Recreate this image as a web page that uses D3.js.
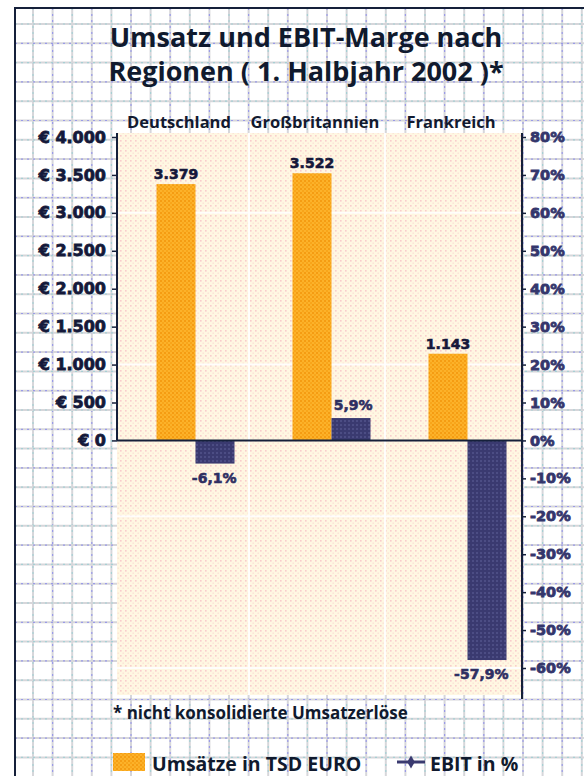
<!DOCTYPE html>
<html>
<head>
<meta charset="utf-8">
<script src="https://cdn.jsdelivr.net/npm/d3@7"></script>
<style>
  body { margin: 0; background: #fff; }
  svg { display: block; }
</style>
</head>
<body>
<svg id="chart"></svg>
<script>
// data
let regions = ["Deutschland", "Großbritannien", "Frankreich"]
let umsatz = [3379, 3522, 1143]        // TSD EURO
let ebit = [-6.1, 5.9, -57.9]          // EBIT in %
let eurTicks = [0, 500, 1000, 1500, 2000, 2500, 3000, 3500, 4000]
let pctTicks = [-60, -50, -40, -30, -20, -10, 0, 10, 20, 30, 40, 50, 60, 70, 80]
let bandLines = [60, 20, -20, -60]     // white lines in the plot texture

function getConfig() {
  let width = 584
  let height = 776
  let plot = { left: 117, right: 522, top: 133, bottom: 695 }
  let container = d3.select("#chart")
    .attr("width", width)
    .attr("height", height)
  return { width, height, plot, container }
}

function getScales(config) {
  // both axes share the pixel scale: 500 EUR = 10 %
  let yPct = d3.scaleLinear().domain([-60, 80]).range([668, 137])
  let yEur = d3.scaleLinear().domain([-3000, 4000]).range([668, 137])
  let xBand = d3.scaleBand().domain(regions).range([113, 521])
  let xInner = d3.scaleBand().domain(["umsatz", "ebit"]).range([0, 78])
  return { yPct, yEur, xBand, xInner }
}

let de = d3.formatLocale({ decimal: ",", thousands: ".", grouping: [3], currency: ["€", ""] })
let fmtEur = de.format(",.0f")
let fmtPct = de.format(".1f")
let sans = "'Open Sans', sans-serif"

function drawPaper(config) {
  let { width, height, container } = config
  let g = container.append("g")
  let xs = d3.range(33, width, 19.6)
  let ys = d3.range(24, height, 19.3)
  xs.forEach((x, i) => {
    g.append("line").attr("x1", x).attr("x2", x).attr("y1", 8).attr("y2", height)
      .attr("stroke", "#d6d6da").attr("stroke-width", 2)
    g.append("line").attr("x1", x).attr("x2", x).attr("y1", 8).attr("y2", height)
      .attr("stroke", i % 2 ? "#9a9ae8" : "#a6d0d4").attr("stroke-width", 1.2)
      .attr("stroke-dasharray", "2,4")
  })
  ys.forEach((y, i) => {
    g.append("line").attr("x1", 15).attr("x2", width).attr("y1", y).attr("y2", y)
      .attr("stroke", "#d6d6da").attr("stroke-width", 2)
    g.append("line").attr("x1", 15).attr("x2", width).attr("y1", y).attr("y2", y)
      .attr("stroke", i % 2 ? "#9a9ae8" : "#a6d0d4").attr("stroke-width", 1.2)
      .attr("stroke-dasharray", "2,4")
  })
  // frame
  g.append("path").attr("d", `M15,${height}V8H${width}`)
    .attr("fill", "none").attr("stroke", "#15203a").attr("stroke-width", 2)
}

function makePatterns(config) {
  let defs = config.container.append("defs")
  let bg = defs.append("pattern").attr("id", "pBg").attr("patternUnits", "userSpaceOnUse")
    .attr("width", 5).attr("height", 5)
  bg.append("rect").attr("width", 5).attr("height", 5).attr("fill", "#fff7e2")
  bg.append("rect").attr("x", 0).attr("y", 0).attr("width", 1.6).attr("height", 1.6).attr("fill", "#f9cccc")
  bg.append("rect").attr("x", 2.5).attr("y", 2.5).attr("width", 1.4).attr("height", 1.4).attr("fill", "#fbe2d6")

  let or = defs.append("pattern").attr("id", "pOrange").attr("patternUnits", "userSpaceOnUse")
    .attr("width", 4).attr("height", 4)
  or.append("rect").attr("width", 4).attr("height", 4).attr("fill", "#fcb22a")
  or.append("rect").attr("width", 2).attr("height", 2).attr("fill", "#f59c12")
  or.append("rect").attr("x", 2).attr("y", 2).attr("width", 2).attr("height", 2).attr("fill", "#f8a51a")

  let nv = defs.append("pattern").attr("id", "pNavy").attr("patternUnits", "userSpaceOnUse")
    .attr("width", 4).attr("height", 4)
  nv.append("rect").attr("width", 4).attr("height", 4).attr("fill", "#3a3a70")
  nv.append("rect").attr("width", 2).attr("height", 2).attr("fill", "#4c4d84")
}

function drawChart(config, scales) {
  let { plot, container } = config
  let { yPct, yEur, xBand, xInner } = scales

  // plot texture
  container.append("rect")
    .attr("x", plot.left).attr("y", plot.top)
    .attr("width", plot.right - plot.left).attr("height", plot.bottom - plot.top)
    .attr("fill", "url(#pBg)")
  container.selectAll(".hband").data(bandLines).enter().append("line")
    .attr("x1", plot.left).attr("x2", plot.right)
    .attr("y1", d => yPct(d)).attr("y2", d => yPct(d))
    .attr("stroke", "#fff").attr("stroke-width", 2).attr("opacity", 0.9)
  container.selectAll(".vband").data(regions.slice(1)).enter().append("line")
    .attr("x1", d => xBand(d)).attr("x2", d => xBand(d))
    .attr("y1", plot.top).attr("y2", plot.bottom)
    .attr("stroke", "#fff").attr("stroke-width", 2).attr("opacity", 0.9)

  // category labels
  container.selectAll(".cat").data(regions).enter().append("text")
    .attr("x", d => xBand(d) + xBand.bandwidth() / 2 - 2)
    .attr("y", 128)
    .attr("text-anchor", "middle")
    .style("font", "bold 16.5px " + sans)
    .attr("fill", "#121a30")
    .text(d => d)

  // bar pairs sit a little right of the band centre
  let groupX = d => xBand(d) + xBand.bandwidth() / 2 + 14.5 - 39

  // Umsatz bars
  container.selectAll(".umsatz").data(regions).enter().append("rect")
    .attr("x", d => groupX(d) + xInner("umsatz"))
    .attr("width", xInner.bandwidth())
    .attr("y", (d, i) => yEur(umsatz[i]))
    .attr("height", (d, i) => yEur(0) - yEur(umsatz[i]))
    .attr("fill", "url(#pOrange)")

  // EBIT bars
  container.selectAll(".ebit").data(regions).enter().append("rect")
    .attr("x", d => groupX(d) + xInner("ebit"))
    .attr("width", xInner.bandwidth())
    .attr("y", (d, i) => yPct(Math.max(0, ebit[i])))
    .attr("height", (d, i) => Math.abs(yPct(ebit[i]) - yPct(0)))
    .attr("fill", "url(#pNavy)")

  let labelStyle = sel => sel
    .style("font", "bold 14px 'DejaVu Sans', sans-serif")
    .attr("fill", "#15183a").attr("stroke", "#15183a").attr("stroke-width", 0.6)

  container.selectAll(".ulab").data(regions).enter().append("text")
    .attr("x", d => groupX(d) + xInner("umsatz") + xInner.bandwidth() / 2)
    .attr("y", (d, i) => yEur(umsatz[i]) - 5)
    .attr("text-anchor", "middle")
    .call(labelStyle)
    .text((d, i) => fmtEur(umsatz[i]))

  container.selectAll(".elab").data(regions).enter().append("text")
    .attr("x", d => groupX(d) + xInner("ebit") + xInner.bandwidth() + 2)
    .attr("y", (d, i) => ebit[i] < 0 ? yPct(ebit[i]) + 19 : yPct(ebit[i]) - 8)
    .attr("text-anchor", "end")
    .call(labelStyle)
    .attr("fill", "#2e2f62").attr("stroke", "#2e2f62")
    .text((d, i) => fmtPct(ebit[i]).replace("−", "-") + "%")

  // zero line
  container.append("line")
    .attr("x1", plot.left).attr("x2", plot.right)
    .attr("y1", yPct(0)).attr("y2", yPct(0))
    .attr("stroke", "#15203a").attr("stroke-width", 2)

  // left axis (EUR)
  let left = container.append("g")
    .attr("transform", `translate(${plot.left},0)`)
    .call(d3.axisLeft(yEur).tickValues(eurTicks).tickSize(5).tickPadding(6)
      .tickFormat(d => "€ " + fmtEur(d)))
  left.select(".domain").remove()
  left.append("line").attr("y1", plot.top).attr("y2", yEur(0))
    .attr("stroke", "#15203a").attr("stroke-width", 2)
  left.selectAll(".tick line").attr("stroke", "#15203a").attr("stroke-width", 1.5)
  left.selectAll(".tick text")
    .style("font", "bold 16px 'DejaVu Sans', sans-serif")
    .attr("fill", "#14193a").attr("stroke", "#14193a").attr("stroke-width", 0.8)

  // right axis (%)
  let right = container.append("g")
    .attr("transform", `translate(${plot.right},0)`)
    .call(d3.axisRight(yPct).tickValues(pctTicks).tickSize(4).tickPadding(4)
      .tickFormat(d => d + "%"))
  right.select(".domain").remove()
  right.append("line").attr("y1", plot.top).attr("y2", plot.bottom + 4)
    .attr("stroke", "#15203a").attr("stroke-width", 2)
  right.selectAll(".tick line").attr("stroke", "#15203a").attr("stroke-width", 1.5)
  right.selectAll(".tick text")
    .style("font", "bold 14.5px 'DejaVu Sans', sans-serif")
    .attr("fill", "#34366c").attr("stroke", "#34366c").attr("stroke-width", 0.8)
}

function drawTexts(config) {
  let { container } = config
  let title = ["Umsatz und EBIT-Marge nach", "Regionen ( 1. Halbjahr 2002 )*"]
  container.selectAll(".title").data(title).enter().append("text")
    .attr("x", 306).attr("y", (d, i) => 47 + i * 34)
    .attr("text-anchor", "middle")
    .style("font", "bold 27px " + sans)
    .attr("fill", "#101a2e")
    .text(d => d)

  container.append("text")
    .attr("x", 113).attr("y", 719)
    .style("font", "bold 17px " + sans)
    .attr("fill", "#101a2e")
    .text("* nicht konsolidierte Umsatzerlöse")

  // legend
  container.append("rect").attr("x", 113).attr("y", 753).attr("width", 32).attr("height", 18)
    .attr("fill", "url(#pOrange)")
  container.append("text").attr("x", 152).attr("y", 771)
    .style("font", "bold 19.5px " + sans).attr("fill", "#101a2e")
    .text("Umsätze in TSD EURO")
  container.append("line").attr("x1", 397).attr("x2", 425).attr("y1", 762).attr("y2", 762)
    .attr("stroke", "#3a3a70").attr("stroke-width", 3)
  container.append("path").attr("d", d3.symbol(d3.symbolDiamond, 50)())
    .attr("transform", "translate(411,762)").attr("fill", "#3a3a70")
  container.append("text").attr("x", 430).attr("y", 771)
    .style("font", "bold 19.5px " + sans).attr("fill", "#101a2e")
    .text("EBIT in %")
}

function showChart() {
  let config = getConfig()
  let scales = getScales(config)
  drawPaper(config)
  makePatterns(config)
  drawChart(config, scales)
  drawTexts(config)
}

showChart()
</script>
</body>
</html>
